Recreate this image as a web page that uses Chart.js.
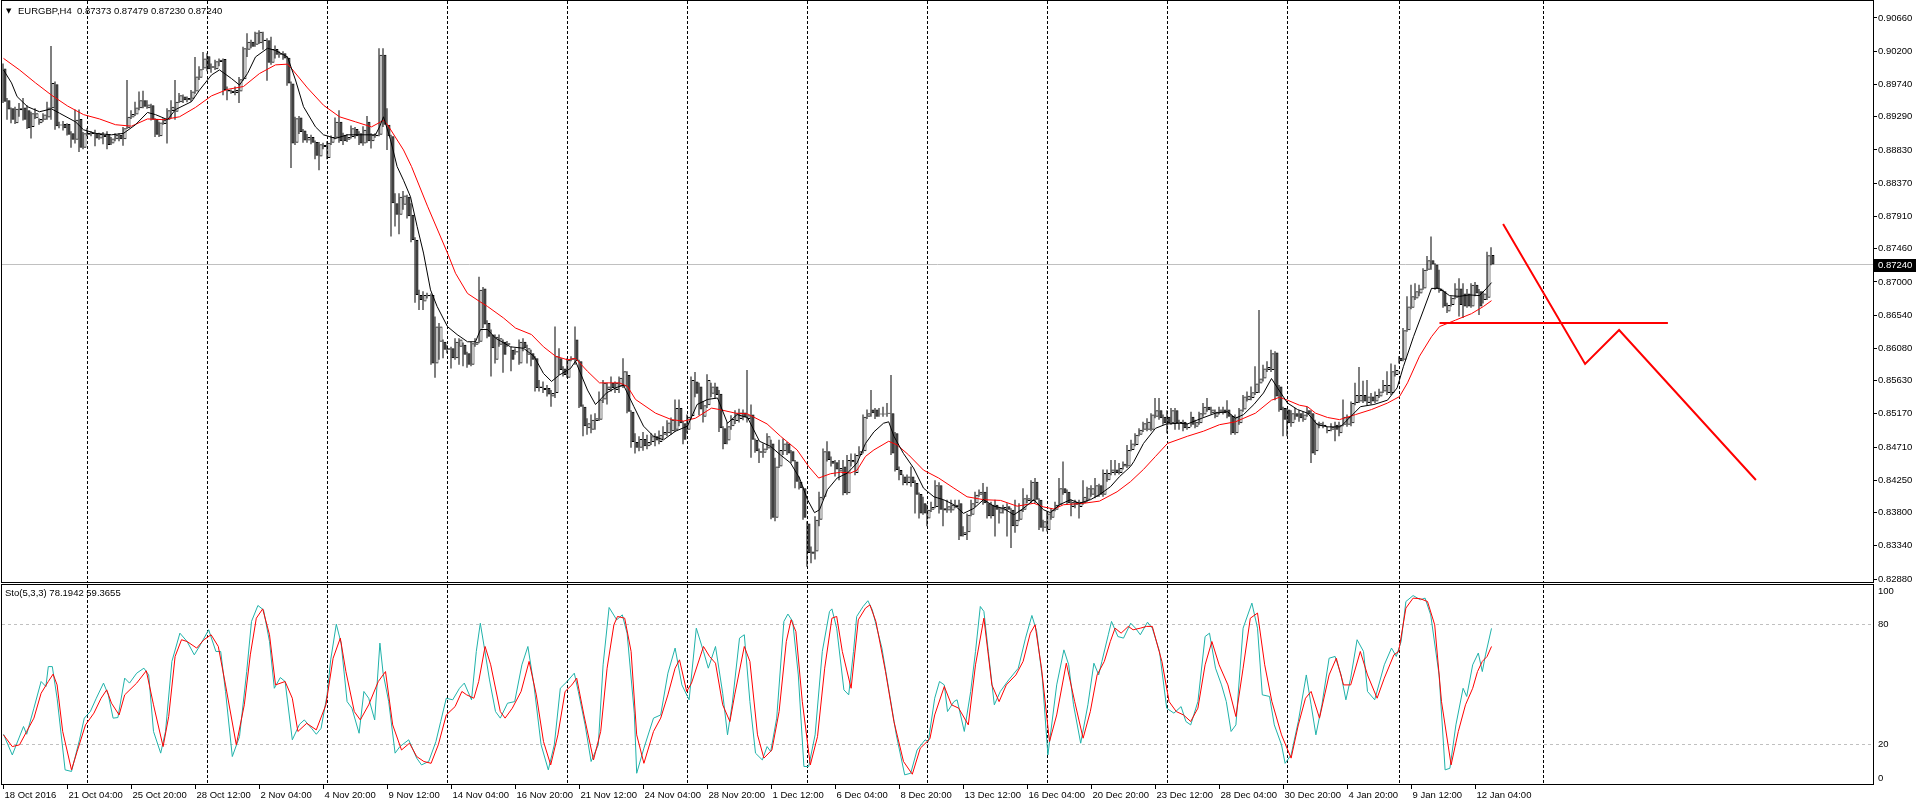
<!DOCTYPE html>
<html>
<head>
<meta charset="utf-8">
<title>EURGBP,H4</title>
<script src="https://cdn.jsdelivr.net/npm/chart.js@4.4.1/dist/chart.umd.min.js"></script>
<style>
  body { margin: 0; background: #fff; }
  #mainChart { position: absolute; left: 0; top: 0; }
  #stoChart { position: absolute; left: 0; top: 584px; }
</style>
</head>
<body>
<canvas id="mainChart" width="1916" height="583"></canvas>
<canvas id="stoChart" width="1916" height="221"></canvas>
<script>
// EURGBP H4 candles, bar 0 = 18 Oct 2016 20:00
const opens = [
  .8996,.8952,.8941,.8920,.8938,.8942,.8938,.8915,.8927,.8920,
  .8925,.8928,.8941,.8974,.8917,.8919,.8919,.8906,.8897,.8926,
  .8886,.8904,.8907,.8906,.8899,.8904,.8905,.8892,.8898,.8904,
  .8898,.8913,.8928,.8932,.8941,.8952,.8941,.8945,.8926,.8902,
  .8919,.8925,.8937,.8936,.8949,.8957,.8952,.8954,.8964,.8983,
  .8996,.9013,.8997,.8995,.9005,.9009,.8966,.8965,.8962,.8964,
  .8981,.9022,.9033,.9029,.9031,.9036,.9035,.9004,.9023,.9015,
  .9017,.9011,.8975,.8893,.8928,.8910,.8896,.8901,.8894,.8874,
  .8890,.8872,.8893,.8900,.8922,.8904,.8897,.8901,.8912,.8906,
  .8892,.8922,.8895,.8902,.8904,.9015,.8918,.8902,.8809,.8793,
  .8807,.8818,.8793,.8758,.8682,.8673,.8682,.8682,.8587,.8617,
  .8617,.8608,.8608,.8594,.8610,.8613,.8601,.8585,.8613,.8617,
  .8691,.8643,.8627,.8592,.8613,.8617,.8613,.8606,.8602,.8587,
  .8617,.8599,.8601,.8594,.8553,.8553,.8553,.8541,.8546,.8594,
  .8580,.8567,.8592,.8620,.8590,.8527,.8497,.8495,.8507,.8509,
  .8537,.8550,.8560,.8550,.8555,.8555,.8571,.8520,.8478,.8470,
  .8482,.8472,.8478,.8486,.8478,.8488,.8490,.8493,.8495,.8525,
  .8504,.8495,.8514,.8562,.8555,.8513,.8529,.8545,.8555,.8545,
  .8497,.8480,.8500,.8507,.8510,.8519,.8510,.8516,.8481,.8465,
  .8463,.8469,.8476,.8373,.8444,.8465,.8476,.8465,.8451,.8423,
  .8414,.8365,.8323,.8326,.8370,.8402,.8465,.8452,.8450,.8437,
  .8444,.8407,.8450,.8435,.8460,.8465,.8513,.8523,.8523,.8517,
  .8516,.8517,.8518,.8490,.8439,.8430,.8421,.8430,.8421,.8406,
  .8393,.8372,.8384,.8388,.8418,.8386,.8383,.8383,.8388,.8393,
  .8349,.8353,.8377,.8393,.8405,.8409,.8393,.8391,.8391,.8379,
  .8383,.8389,.8384,.8361,.8370,.8384,.8396,.8396,.8423,.8398,
  .8359,.8356,.8373,.8384,.8391,.8414,.8409,.8388,.8395,.8388,
  .8393,.8398,.8405,.8402,.8418,.8405,.8425,.8435,.8440,.8435,
  .8444,.8444,.8467,.8474,.8488,.8495,.8495,.8495,.8513,.8522,
  .8513,.8513,.8504,.8522,.8504,.8506,.8497,.8513,.8499,.8504,
  .8516,.8527,.8518,.8513,.8519,.8523,.8523,.8514,.8490,.8504,
  .8523,.8536,.8539,.8546,.8559,.8566,.8578,.8578,.8602,.8555,
  .8525,.8523,.8504,.8518,.8518,.8509,.8522,.8518,.8465,.8500,
  .8502,.8493,.8495,.8502,.8490,.8502,.8502,.8504,.8532,.8534,
  .8543,.8532,.8541,.8534,.8541,.8548,.8546,.8546,.8571,.8595,
  .8592,.8633,.8664,.8677,.8684,.8691,.8717,.8730,.8724,.8691,
  .8687,.8659,.8668,.8678,.8691,.8684,.8684,.8666,.8696,.8687,
  .8675,.8678,.87373
];
const highs = [
  .9003,.8955,.8942,.8943,.8948,.8955,.8945,.8936,.8941,.8927,
  .8934,.8950,.9027,.8978,.8922,.8923,.8920,.8909,.8939,.8939,
  .8908,.8913,.8909,.8911,.8907,.8908,.8909,.8901,.8906,.8906,
  .8915,.8980,.8938,.8950,.8964,.8965,.8952,.8947,.8927,.8922,
  .8927,.8941,.8952,.8980,.8962,.8960,.8957,.8966,.9012,.8999,
  .9019,.9017,.9003,.9008,.9010,.9010,.8971,.8967,.8971,.8984,
  .9026,.9045,.9036,.9047,.9049,.9047,.9038,.9040,.9028,.9020,
  .9020,.9013,.8978,.8929,.8930,.8912,.8905,.8904,.8896,.8894,
  .8893,.8895,.8903,.8928,.8938,.8907,.8905,.8917,.8915,.8909,
  .8916,.8930,.8906,.8906,.9024,.9024,.8941,.8904,.8823,.8823,
  .8826,.8821,.8809,.8762,.8689,.8687,.8685,.8684,.8652,.8643,
  .8620,.8612,.8610,.8622,.8622,.8616,.8603,.8617,.8622,.8707,
  .8693,.8647,.8634,.8627,.8627,.8620,.8618,.8610,.8608,.8620,
  .8622,.8613,.8606,.8597,.8564,.8562,.8557,.8550,.8638,.8608,
  .8583,.8594,.8597,.8638,.8592,.8530,.8511,.8516,.8518,.8548,
  .8564,.8560,.8569,.8562,.8569,.8594,.8576,.8522,.8490,.8486,
  .8492,.8488,.8490,.8490,.8494,.8500,.8508,.8512,.8537,.8537,
  .8507,.8516,.8569,.8575,.8560,.8535,.8572,.8560,.8560,.8550,
  .8500,.8505,.8515,.8522,.8524,.8523,.8578,.8530,.8483,.8469,
  .8476,.8490,.8481,.8456,.8481,.8483,.8478,.8467,.8453,.8430,
  .8416,.8368,.8333,.8375,.8409,.8469,.8479,.8458,.8453,.8453,
  .8453,.8460,.8462,.8462,.8472,.8516,.8523,.8550,.8525,.8525,
  .8527,.8532,.8571,.8492,.8444,.8433,.8433,.8444,.8425,.8408,
  .8402,.8391,.8395,.8425,.8422,.8398,.8398,.8398,.8398,.8398,
  .8361,.8379,.8398,.8409,.8412,.8421,.8416,.8395,.8398,.8388,
  .8391,.8393,.8386,.8398,.8393,.8414,.8405,.8425,.8428,.8400,
  .8370,.8382,.8386,.8395,.8428,.8451,.8412,.8398,.8398,.8398,
  .8425,.8416,.8418,.8428,.8420,.8440,.8440,.8453,.8453,.8449,
  .8451,.8474,.8481,.8490,.8497,.8506,.8511,.8518,.8539,.8539,
  .8516,.8522,.8525,.8525,.8509,.8509,.8504,.8520,.8509,.8520,
  .8532,.8539,.8527,.8523,.8527,.8527,.8536,.8516,.8516,.8525,
  .8543,.8548,.8555,.8583,.8661,.8585,.8590,.8606,.8604,.8557,
  .8527,.8525,.8522,.8525,.8522,.8520,.8527,.8522,.8509,.8506,
  .8506,.8500,.8504,.8506,.8506,.8537,.8516,.8534,.8560,.8582,
  .8563,.8564,.8546,.8548,.8552,.8564,.8576,.8587,.8585,.8597,
  .8636,.8680,.8696,.8698,.8696,.8719,.8736,.8763,.8726,.8717,
  .8689,.8671,.8680,.8698,.8705,.8698,.8690,.8698,.8700,.8690,
  .8687,.8742,.87479
];
const lows = [
  .8948,.8925,.8920,.8919,.8929,.8924,.8912,.8899,.8926,.8918,
  .8922,.8925,.8925,.8911,.8913,.8910,.8903,.8886,.8892,.8880,
  .8884,.8902,.8902,.8888,.8897,.8891,.8884,.8890,.8895,.8895,
  .8889,.8912,.8926,.8930,.8938,.8941,.8940,.8924,.8901,.8901,
  .8918,.8892,.8927,.8925,.8948,.8948,.8949,.8950,.8961,.8980,
  .8994,.8992,.8990,.8994,.8999,.8959,.8952,.8961,.8959,.8948,
  .8979,.9012,.9024,.9026,.9030,.9022,.8979,.9001,.9010,.9011,
  .9008,.8972,.8858,.8890,.8905,.8893,.8893,.8891,.8870,.8855,
  .8884,.8870,.8890,.8898,.8893,.8890,.8894,.8899,.8899,.8890,
  .8889,.8893,.8885,.8900,.8902,.8915,.8883,.8763,.8777,.8766,
  .8800,.8788,.8755,.8671,.8661,.8661,.8677,.8585,.8567,.8592,
  .8594,.8601,.8580,.8592,.8585,.8583,.8581,.8583,.8610,.8615,
  .8636,.8622,.8569,.8587,.8610,.8574,.8610,.8576,.8599,.8585,
  .8604,.8587,.8583,.8548,.8548,.8546,.8541,.8527,.8539,.8571,
  .8569,.8567,.8590,.8585,.8525,.8486,.8488,.8490,.8495,.8507,
  .8532,.8530,.8548,.8546,.8546,.8553,.8518,.8470,.8462,.8465,
  .8466,.8468,.8474,.8472,.8475,.8482,.8486,.8488,.8492,.8500,
  .8475,.8490,.8510,.8540,.8515,.8505,.8525,.8540,.8538,.8492,
  .8468,.8475,.8495,.8503,.8505,.8508,.8505,.8456,.8463,.8449,
  .8456,.8467,.8371,.8368,.8442,.8460,.8460,.8449,.8414,.8412,
  .8370,.8305,.8310,.8315,.8361,.8398,.8451,.8444,.8430,.8425,
  .8404,.8405,.8444,.8432,.8458,.8462,.8510,.8513,.8510,.8513,
  .8513,.8513,.8460,.8437,.8425,.8418,.8418,.8416,.8379,.8372,
  .8377,.8361,.8381,.8386,.8379,.8361,.8380,.8380,.8386,.8342,
  .8347,.8342,.8375,.8388,.8402,.8391,.8372,.8372,.8347,.8365,
  .8379,.8347,.8331,.8352,.8368,.8381,.8393,.8393,.8393,.8356,
  .8354,.8354,.8370,.8382,.8388,.8405,.8391,.8375,.8386,.8372,
  .8391,.8395,.8402,.8400,.8402,.8402,.8423,.8432,.8432,.8433,
  .8440,.8442,.8465,.8472,.8486,.8492,.8493,.8493,.8511,.8509,
  .8502,.8490,.8502,.8495,.8495,.8493,.8495,.8499,.8497,.8502,
  .8513,.8520,.8516,.8511,.8516,.8516,.8511,.8488,.8488,.8502,
  .8520,.8534,.8536,.8543,.8546,.8562,.8575,.8575,.8536,.8520,
  .8486,.8486,.8499,.8509,.8506,.8506,.8513,.8449,.8460,.8497,
  .8497,.8490,.8493,.8479,.8486,.8500,.8499,.8500,.8529,.8532,
  .8532,.8529,.8530,.8532,.8539,.8546,.8543,.8543,.8569,.8587,
  .8590,.8631,.8662,.8675,.8680,.8689,.8715,.8717,.8689,.8685,
  .8664,.8657,.8666,.8676,.8652,.8650,.8664,.8664,.8680,.8654,
  .8670,.8675,.87230
];
const closes = [
  .8950,.8939,.8925,.8940,.8941,.8925,.8913,.8934,.8934,.8926,
  .8932,.8942,.8976,.8916,.8918,.8913,.8904,.8897,.8925,.8886,
  .8906,.8907,.8905,.8899,.8905,.8901,.8890,.8899,.8904,.8898,
  .8913,.8929,.8933,.8942,.8952,.8943,.8946,.8925,.8904,.8921,
  .8925,.8938,.8943,.8950,.8959,.8952,.8955,.8964,.8985,.8995,
  .9010,.8995,.8999,.9006,.9008,.8966,.8964,.8962,.8966,.8981,
  .9024,.9033,.9026,.9046,.9047,.9034,.9004,.9023,.9015,.9017,
  .9010,.8975,.8892,.8927,.8908,.8896,.8901,.8893,.8875,.8891,
  .8887,.8893,.8901,.8922,.8895,.8895,.8901,.8913,.8902,.8892,
  .8911,.8895,.8904,.8904,.9015,.8918,.8902,.8809,.8793,.8818,
  .8820,.8791,.8758,.8682,.8675,.8682,.8680,.8587,.8638,.8638,
  .8606,.8606,.8594,.8617,.8620,.8599,.8585,.8615,.8617,.8689,
  .8641,.8624,.8608,.8624,.8622,.8599,.8615,.8592,.8604,.8617,
  .8608,.8608,.8592,.8553,.8555,.8550,.8544,.8546,.8597,.8578,
  .8571,.8592,.8594,.8590,.8527,.8500,.8504,.8509,.8511,.8537,
  .8560,.8555,.8553,.8560,.8567,.8576,.8520,.8478,.8470,.8482,
  .8472,.8478,.8486,.8480,.8488,.8492,.8505,.8509,.8525,.8504,
  .8481,.8513,.8564,.8545,.8523,.8529,.8564,.8555,.8543,.8497,
  .8475,.8500,.8510,.8518,.8519,.8512,.8515,.8481,.8465,.8463,
  .8469,.8486,.8373,.8444,.8467,.8476,.8462,.8451,.8423,.8414,
  .8373,.8324,.8326,.8370,.8402,.8465,.8453,.8448,.8440,.8442,
  .8407,.8453,.8453,.8460,.8465,.8513,.8518,.8518,.8513,.8516,
  .8517,.8518,.8462,.8439,.8432,.8421,.8430,.8421,.8405,.8379,
  .8379,.8384,.8388,.8418,.8384,.8383,.8389,.8391,.8391,.8347,
  .8353,.8377,.8393,.8405,.8409,.8393,.8375,.8375,.8384,.8386,
  .8388,.8384,.8361,.8370,.8384,.8400,.8400,.8423,.8398,.8359,
  .8368,.8379,.8384,.8391,.8414,.8407,.8393,.8395,.8391,.8395,
  .8402,.8414,.8414,.8418,.8405,.8435,.8435,.8440,.8435,.8442,
  .8448,.8467,.8476,.8488,.8495,.8504,.8506,.8516,.8522,.8511,
  .8504,.8504,.8522,.8504,.8506,.8497,.8499,.8502,.8506,.8518,
  .8527,.8522,.8523,.8520,.8523,.8518,.8513,.8490,.8513,.8523,
  .8541,.8542,.8547,.8559,.8566,.8580,.8582,.8601,.8541,.8522,
  .8509,.8504,.8518,.8513,.8511,.8516,.8516,.8462,.8504,.8504,
  .8500,.8495,.8499,.8495,.8502,.8513,.8513,.8532,.8543,.8543,
  .8534,.8541,.8534,.8543,.8548,.8557,.8557,.8576,.8578,.8590,
  .8633,.8666,.8680,.8687,.8691,.8717,.8730,.8724,.8691,.8687,
  .8666,.8668,.8678,.8691,.8668,.8666,.8666,.8696,.8684,.8666,
  .8684,.8737,.87240
];

// moving averages: [bar, price]
const maBlack = [
  [0,.8994],[2,.8976],[3.4,.8957],[6,.8943],[9,.8936],[12,.8940],[14,.8934],[18,.8922],[20,.8911],[23,.8906],
  [27,.8904],[30,.8906],[33,.8918],[36,.8935],[38,.8932],[41,.8925],[43,.8939],[47,.8950],[49,.8966],[52,.8987],
  [54,.8994],[57,.8982],[59,.8973],[61,.8989],[63,.9012],[66,.9024],[68,.9021],[71,.9012],[73,.8980],[75,.8943],
  [78,.8915],[80,.8904],[83,.8899],[86,.8904],[89,.8904],[93,.8904],[94,.8915],[95,.8929],[96.75,.8897],[98.4,.8860],
  [100,.8841],[101.75,.8818],[103.4,.8777],[105,.8740],[106.75,.8689],[108.4,.8666],[111,.8638],[113.4,.8627],[116,.8617],[118,.8617],
  [119.25,.8634],[121,.8634],[123,.8622],[126.75,.8610],[130,.8608],[132.6,.8597],[135,.8573],[137,.8562],[139,.8571],[141.75,.8580],
  [143,.8590],[146,.8550],[148,.8530],[150.75,.8546],[153,.8553],[155,.8557],[157.6,.8527],[160,.8500],[162.5,.8486],[165,.8481],
  [168,.8493],[171,.8500],[173.4,.8530],[176,.8537],[178.5,.8539],[181,.8504],[183.4,.8516],[186,.8512],[189,.8479],[191.75,.8472],
  [194.25,.8460],[196.75,.8449],[199,.8428],[201,.8398],[202.75,.8380],[204,.8384],[206,.8412],[208.4,.8428],[211,.8435],[213.4,.8449],
  [215.5,.8476],[217.6,.8492],[220,.8504],[221.3,.8506],[222.6,.8486],[225,.8462],[227.5,.8442],[230,.8414],[232.6,.8402],[235,.8398],
  [237.6,.8391],[240,.8379],[242.6,.8386],[245,.8398],[247.6,.8389],[250,.8386],[252.6,.8377],[255,.8386],[257.6,.8398],[260,.8384],
  [261.75,.8380],[264,.8391],[266.75,.8398],[269,.8393],[271.75,.8398],[274,.8405],[276.75,.8416],[279,.8430],[281.75,.8444],[282.6,.8451],
  [285,.8476],[288,.8497],[290.75,.8503],[294,.8504],[296,.8503],[299.6,.8511],[303,.8518],[306,.8520],[308,.8511],[310,.8516],
  [312.6,.8530],[315,.8546],[317,.8566],[318.5,.8553],[321,.8532],[323.5,.8523],[326,.8518],[328.5,.8502],[331,.8499],[334.25,.8499],
  [336.75,.8513],[339.25,.8527],[342.6,.8530],[346,.8536],[348.4,.8553],[350,.8583],[352.5,.8624],[355,.8661],[357,.8691],[359,.8691],
  [361.5,.8681],[364,.8680],[366.5,.8682],[369,.8681],[370.75,.8691],[372,.8699]
];
const maRed = [
  [0,.9010],[4,.8994],[8,.8976],[12,.8959],[16,.8944],[20,.8932],[24,.8926],[28,.8918],[32,.8916],[36,.8926],
  [40,.8925],[44,.8929],[48,.8942],[52,.8958],[56,.8967],[60,.8971],[64,.8989],[68,.9001],[71,.9002],[72,.8996],
  [76,.8969],[80,.8945],[84,.8929],[88,.8922],[92,.8915],[95,.8924],[96,.8918],[100,.8883],[102,.8860],[106,.8805],
  [111,.8740],[113,.8712],[116,.8684],[119,.8673],[121,.8666],[125,.8650],[128,.8636],[132,.8627],[135,.8610],[138,.8597],
  [141,.8592],[143,.8594],[146,.8576],[149,.8560],[154,.8560],[156,.8555],[158,.8537],[163,.8518],[167,.8509],[170,.8507],
  [173,.8511],[177,.8525],[179,.8523],[183,.8518],[186,.8517],[190.9,.8503],[194.25,.8486],[198.4,.8467],[201.3,.8444],[203.8,.8428],
  [206.75,.8434],[209.25,.8436],[211.75,.8435],[213.4,.8439],[215.5,.8458],[217.6,.8467],[221.3,.8479],[223.4,.8474],[226.3,.8460],[230,.8439],
  [233.8,.8428],[237.6,.8414],[240.9,.8402],[245,.8398],[249.25,.8397],[253.4,.8389],[257.6,.8393],[260,.8388],[262.6,.8385],[265,.8391],
  [270,.8393],[274,.8396],[278.4,.8409],[281.75,.8423],[285,.8440],[288,.8458],[291,.8476],[296,.8486],[300,.8493],[304,.8502],
  [308,.8506],[313,.8518],[317,.8536],[319,.8540],[321,.8536],[324,.8529],[326,.8527],[328,.8518],[331,.8512],[334,.8509],
  [338,.8516],[342,.8523],[346,.8532],[349,.8541],[351,.8560],[354,.8597],[357,.8624],[359,.8638],[363,.8647],[367,.8656],
  [370,.8666],[372,.8674]
];

// Sto(5,3,3): main (%K) and signal (%D), [bar, value]
const stoMain = [
  [0,25],[2.2,14.6],[5,28.9],[5.8,25],[7.6,38.1],[9.4,51.5],[10.6,49],[11.2,59],[12.2,59],[13.4,43.1],
  [15.4,7.1],[17,6.3],[19,22.2],[20.2,33.1],[21.7,36.4],[23.2,43.1],[25,50.7],[26.2,44.8],[27.4,33.1],[28.6,33.4],
  [30.3,53.2],[31.5,50.7],[33.3,55.7],[35.1,58.2],[36.3,54.8],[37.5,26.4],[39.3,15.5],[40.5,26.4],[42.1,61.6],[44.1,75.8],
  [45.9,71.6],[47.7,64.9],[49.2,69.9],[51.3,77.5],[53.1,66.6],[54.3,66.6],[55.5,46.5],[57.2,13.8],[59,23.8],[60.8,56.5],
  [62,81.7],[63.6,89.7],[65,87.5],[66.5,71.6],[67.7,48.1],[69.2,53.5],[70.4,51.5],[72.2,22.2],[74,30],[75.2,32.2],
  [77,28],[78.2,25],[79.4,28],[80.9,44.8],[81.8,62.4],[83.2,80.3],[84.4,70.8],[85.9,41.4],[87.1,38.1],[88.9,25.5],
  [90.1,46.5],[91.3,43.1],[92.8,32.2],[94.1,70.8],[94.9,55.7],[96.3,41.4],[97.9,15.5],[99.1,18.8],[101.3,22.2],[103.3,13],
  [104.5,9.6],[106.3,11.3],[108.1,21.3],[109.3,31.4],[110.7,43.1],[112.3,42.3],[114,48.1],[115.2,50.7],[117,42.3],[118.2,66.6],
  [119.2,80.8],[120.3,67.4],[121.5,52.3],[123,36.4],[124.2,33.1],[126,40.6],[127.8,41.4],[129.6,59.9],[131.1,69.1],[132.6,49.8],
  [134.4,19.7],[136.2,7.1],[137.7,19.7],[139.2,48.1],[140.9,51.5],[142.7,55.7],[143.7,46.5],[145.4,29.7],[146.9,11.3],[148.7,19.7],
  [149.9,59.9],[151.4,88.7],[153.3,82.5],[154.7,85],[155.9,75.8],[157.7,35.6],[158.3,5.4],[160.1,18],[162.5,33.1],[164.3,34.7],
  [166.1,55.7],[167.9,68.3],[169.6,49.8],[171.4,42.3],[173.2,78.3],[175,66.6],[176.2,58.2],[178,69.1],[179.8,45.6],[181,24.7],
  [182.2,40.6],[184,73.3],[185.2,75],[186.6,41.4],
  [188,15.5],[189.7,12.1],[190.9,18.8],[191.8,16.3],[193.3,33.1],[195.1,81.7],[196.1,85.4],[197.3,81.7],[198.7,54.8],[200.1,8.8],
  [201.3,8.8],[202.9,24.7],[204.7,66.6],[206.5,86.7],[207.1,88],[208.3,78.3],[210.1,47.3],[211.3,44.8],[212.5,66.6],[213.3,84.2],
  [214.9,89.2],[216.1,92.1],[217.2,87.5],[219.6,68.3],[221.4,46.5],[223.2,24.7],[225.3,4.6],[226.8,5.4],[228.4,17.1],[230.4,22.2],
  [231.2,21.3],[232.8,43.1],[234,51.5],[235.2,49.8],[236,36.4],[237.6,41.4],[238.4,42.3],[240.2,26.4],[241.8,46.5],[243,66.6],
  [244.2,89.2],[245.1,86.7],[246.2,66.6],[247.7,39.8],[249.2,46.5],[251.3,52.3],[253.7,58.2],[255.5,73.3],[257.1,84.7],[258.3,76.6],
  [259.7,53.2],[261.1,14.6],[263.3,49.8],[265.1,67.4],[266.3,59.9],[267.5,39.8],[269.3,20.5],[271.1,39.8],[272.6,60.7],[273.8,54.8],
  [274.6,61.6],[276.2,75],[277,81.7],[278.6,74.1],[280,73.3],[281.8,80.8],[283,78.3],[284.2,75],[286,81.3],[287.2,78.3],
  [289,66.6],[290.8,38.1],[292.6,35.6],[294.4,38.9],[295.6,31.4],[296.8,29.7],[298.6,41.4],[300.4,74.1],[301.5,75.8],[303,58.2],
  [304.5,49.8],[305.7,41.4],[306.9,26.4],[308.1,29.7],[309.9,78.3],[312.1,90.9],[313.5,78.3],[314.7,44.8],[316.5,44],[317.7,29.7],
  [319.5,19.7],[320.4,10.4],[321.9,14.6],[323.7,31.4],[325.7,54.8],[326.9,39.8],[328.1,24.7],[329.6,39.8],[331.4,63.2],[332.9,64.1],
  [334.4,54.8],[335.6,42.3],[336.8,53.2],[338.4,72.5],[340,66.6],[341,46.5],[342.8,42.3],[345.2,59.9],[347,68.3],[348.2,64.1],
  [349.4,71.6],[350.6,91.7],[352.4,94.7],[354.2,92.6],[355.4,93.4],[356.8,85],[358.9,54.8],[360.4,7.1],[361.6,7.9],[363.1,29.7],
  [364.9,48.1],[365.8,44],[367.3,59.9],[368.7,65.8],[369.7,56.5],[370.5,64.9],[372,78.2]
];
const stoSignal = [
  [0,24.7],[2.2,18.8],[4,19.7],[5.8,26.4],[7.6,33.1],[9.4,45.6],[11.2,51.5],[12.4,55.2],[13.4,49.8],[14.8,26.4],
  [17,7.1],[18.4,16.3],[20.5,29.7],[22.6,35.6],[24.4,43.1],[25.8,47.3],[27,40.6],[28.9,34.7],[30.3,44.8],[33.3,50.7],
  [35.7,56.9],[37.5,39.8],[39.9,18.8],[41.3,33.9],[42.9,64.1],[44.5,72.5],[45.9,71.6],[48.3,68.3],[50.1,72.5],[51.9,75],
  [53.7,69.1],[55.5,49.8],[58.2,19.7],[60.2,39.8],[61.7,64.9],[63.2,83.3],[64.8,88],[66.5,75],[68,49.8],[70.4,51.5],
  [72.2,43.1],[73.6,26.4],[75.8,30.5],[78.2,27.2],[80.6,39.8],[82.4,63.2],[84.2,73.3],[85.6,56.5],[87.7,36.4],[89.2,32.2],
  [91.3,39.8],[93.7,51.5],[95.5,56.5],[97.3,29.7],[99.5,17.1],[101.5,20.5],[103.3,13.8],[105.1,11.3],[106.9,10.4],[108.7,19.7],
  [110.7,34.7],[112.9,38.9],[114.6,46.5],[115.8,44.8],[117.6,43.1],[118.8,51.5],[120.4,69.1],[121.8,59.9],[124.2,36.4],[125.4,33.1],
  [127.2,38.1],[129.4,46.5],[131.4,61.6],[133.2,44.8],[135,21.3],[136.8,9.6],[138.6,24.7],[140.4,46.5],[142.1,49.8],[143.3,53.2],
  [145.1,34.7],[147.5,12.1],[149.3,26.4],[150.9,58.2],[152.6,80],[153.5,84.2],[155.3,83.3],[156.9,66.6],[158.3,24.7],[160.1,10.4],
  [162.5,26.4],[164.3,33.1],[166.1,44.8],[167.9,58.2],[169,62.4],[170.8,46.5],[172,50.7],[175,69.1],[176.5,64.1],[178,60.7],
  [179.8,39.8],[181.6,31.4],[182.8,44.8],[185.2,69.1],[186.6,61.6],
  [188.5,24.7],[190.1,13],[192.1,17.1],[193.9,36.4],[195.7,71.6],[196.9,82.5],[198.1,76.6],[199.7,41.4],[201.7,9.6],[203.5,23.8],
  [205.3,58.2],[207.1,83.3],[208.3,84.2],[209.7,66.6],[211.9,48.1],[213.7,82.5],[215.5,88.4],[216.6,90],[218.1,81.7],[220.5,56.5],
  [222.6,31.4],[225,11.3],[227.2,4.9],[229.2,18],[231.6,22.7],[232.8,34.7],[235.2,49],[237,39.8],[238.8,38.1],[241.2,29.7],
  [243,59.9],[245.1,83.3],[247.1,49.8],[248.9,41.4],[250.7,49.8],[253.1,54.8],[254.9,61.6],[256.7,75.8],[257.9,80],[259.5,58.2],
  [261.5,21.3],[263.3,34.7],[265.7,60.7],[267.8,41.4],[269.9,23],[271.7,36.4],[273.4,54.8],[275.2,61.6],[276.7,71.6],[277.9,78.3],
  [279.4,75.8],[281.2,79.2],[282.4,77.5],[284.2,78.3],[285.8,79.2],[287.2,79.2],[289.6,61.6],[291.4,41.4],[293.2,36.4],[295,34.7],
  [296.8,31.4],[298.6,38.1],[300.4,59.9],[302.1,71.6],[303.9,59.9],[306.1,49.8],[308.1,33.9],[309.9,58.2],[311.7,83.3],[313.5,85.9],
  [315.3,59.9],[317.1,41.4],[319.5,24.7],[321.9,13],[323.7,29.7],[325.5,43.1],[326.9,46.5],[329,33.1],[331.4,54.8],[333.2,63.2],
  [335,49.8],[336.8,49.8],[339.2,66.6],[341,54.8],[343.4,43.1],[345.2,53.2],[347.6,64.9],[348.8,66.6],[350.6,88.4],[352.4,93.4],
  [354.2,93.1],[356,91.7],[357.8,80],[359.5,41.4],[361.9,9.6],[363.7,26.4],[365.5,39.8],[367.3,48.1],[368.5,56.5],[369.7,61.6],
  [370.9,64.1],[372,69.1]
];

// hand drawn red lines on the chart
const zigzagLine = [[374.9,.87803],[395.4,.85862],[403.9,.86333],[438.1,.84253]];
const levelLine = [[359.0,.8643],[416.1,.8643]];

// axes
const priceTicks = [.90660,.90200,.89740,.89290,.88830,.88370,.87910,.87460,.87000,.86540,.86080,.85630,.85170,.84710,.84250,.83800,.83340,.82880];
const bidPrice = 0.87240;
const weekStarts = [21, 51, 81, 111, 141, 171, 201, 231, 261, 291, 321, 349, 385];
const timeTickBars = [0,16,32,48,64,80,96,112,128,144,160,176,192,208,224,240,256,272,288,304,320,336,352,368];
const timeLabels = ['18 Oct 2016','21 Oct 04:00','25 Oct 20:00','28 Oct 12:00','2 Nov 04:00','4 Nov 20:00','9 Nov 12:00',
  '14 Nov 04:00','16 Nov 20:00','21 Nov 12:00','24 Nov 04:00','28 Nov 20:00','1 Dec 12:00','6 Dec 04:00','8 Dec 20:00',
  '13 Dec 12:00','16 Dec 04:00','20 Dec 20:00','23 Dec 12:00','28 Dec 04:00','30 Dec 20:00','4 Jan 20:00','9 Jan 12:00','12 Jan 04:00'];
const stoLevels = [100, 80, 20, 0];

const X_MIN = -0.375, X_MAX = 467.375;
const FONT = '"Liberation Sans", Arial, sans-serif';

Chart.defaults.font.family = FONT;
Chart.defaults.font.size = 9.5;
Chart.defaults.color = '#000';

const toXY = pairs => pairs.map(p => ({ x: p[0], y: p[1] }));
const wicks = lows.map((l, i) => ({ x: i, y: [l, highs[i]] }));
const bodies = opens.map((o, i) => ({ x: i, y: [o, closes[i]] }));
const bodyFill = opens.map((o, i) => closes[i] >= o ? '#ffffff' : '#000000');

function lineSet(points, color, width, order) {
  return { type: 'line', data: toXY(points), borderColor: color, borderWidth: width,
           pointRadius: 0, fill: false, tension: 0, order: order };
}

// separators, levels, frame and header text for one panel
function panelDeco(cfg) {
  return {
    id: 'deco_' + cfg.name,
    beforeDatasetsDraw(chart) {
      const { ctx, chartArea: a } = chart;
      const xs = chart.scales.x, ys = chart.scales.y;
      ctx.save();
      ctx.lineWidth = 1;
      ctx.strokeStyle = '#000000';
      ctx.setLineDash([3, 2]);
      weekStarts.forEach(w => {
        const px = Math.floor(xs.getPixelForValue(w)) + 0.5;
        ctx.beginPath(); ctx.moveTo(px, a.top); ctx.lineTo(px, a.bottom); ctx.stroke();
      });
      cfg.levels.forEach(lv => {
        ctx.strokeStyle = lv.color;
        ctx.setLineDash(lv.dash);
        const py = Math.floor(ys.getPixelForValue(lv.value)) + 0.5;
        ctx.beginPath(); ctx.moveTo(a.left, py); ctx.lineTo(a.right, py); ctx.stroke();
      });
      ctx.restore();
    },
    afterDraw(chart) {
      const { ctx, chartArea: a, width } = chart;
      const ys = chart.scales.y;
      ctx.save();
      ctx.strokeStyle = '#000';
      ctx.lineWidth = 1;
      ctx.strokeRect(a.left - 0.5, a.top - 0.5, a.right - a.left + 1, a.bottom - a.top + 1);
      ctx.textBaseline = 'middle';
      ctx.fillStyle = '#000';
      if (cfg.arrow) {
        ctx.font = '7px "DejaVu Sans"';
        ctx.fillText('\u25BC', 6, 11);
      }
      ctx.font = '9.5px ' + FONT;
      ctx.fillText(cfg.title, cfg.titleX, cfg.titleY);
      if (cfg.bid) {
        const py = Math.round(ys.getPixelForValue(cfg.bid));
        ctx.fillStyle = '#000';
        ctx.fillRect(a.right + 1, py - 6, width - a.right - 1, 13);
        ctx.fillStyle = '#fff';
        ctx.fillText(cfg.bid.toFixed(5), a.right + 5, py + 0.5);
      }
      if (cfg.sideLabels) {
        ctx.fillStyle = '#000';
        cfg.sideLabels.forEach(v => {
          let py = ys.getPixelForValue(v);
          py = Math.min(Math.max(py, a.top + 6), a.bottom - 6);
          ctx.fillText(String(v), a.right + 5, py);
        });
      }
      ctx.restore();
    }
  };
}

const noPad = s => { s.paddingTop = 0; s.paddingBottom = 0; s.paddingLeft = 0; s.paddingRight = 0; };

new Chart(document.getElementById('mainChart'), {
  type: 'bar',
  data: {
    datasets: [
      lineSet(zigzagLine, '#ff0000', 2, 0),
      lineSet(levelLine, '#ff0000', 2, 0),
      lineSet(maBlack, '#000000', 1, 1),
      lineSet(maRed, '#ff0000', 1, 2),
      { type: 'bar', xAxisID: 'xb', data: bodies, backgroundColor: bodyFill, borderColor: '#000000',
        borderWidth: 1, borderSkipped: false, barThickness: 3, minBarLength: 1, inflateAmount: 0, order: 3 },
      { type: 'bar', xAxisID: 'x', data: wicks, backgroundColor: '#000000', borderWidth: 0,
        barThickness: 1, minBarLength: 1, inflateAmount: 0, order: 4 }
    ]
  },
  options: {
    responsive: false,
    devicePixelRatio: 1,
    animation: false,
    events: [],
    layout: { padding: { top: 1, left: 2, right: 0, bottom: 1 } },
    plugins: { legend: { display: false }, tooltip: { enabled: false } },
    scales: {
      x: { type: 'linear', min: X_MIN, max: X_MAX, offset: false, display: false },
      xb: { type: 'linear', min: X_MIN, max: X_MAX, offset: false, display: false },
      y: {
        position: 'right', min: 0.828384, max: 0.908957, beginAtZero: false,
        afterBuildTicks: s => { s.ticks = priceTicks.map(v => ({ value: v })); },
        afterFit: s => { s.width = 43; noPad(s); },
        ticks: { autoSkip: false, padding: 1, crossAlign: 'near', callback: v => Number(v).toFixed(5) },
        grid: { drawOnChartArea: false, tickLength: 4, color: '#000' },
        border: { display: true, color: '#000' }
      }
    }
  },
  plugins: [panelDeco({
    name: 'main', arrow: true, title: 'EURGBP,H4  0.87373 0.87479 0.87230 0.87240', titleX: 18, titleY: 11,
    bid: bidPrice, levels: [{ value: bidPrice, color: '#c0c0c0', dash: [] }]
  })]
});

new Chart(document.getElementById('stoChart'), {
  type: 'line',
  data: {
    datasets: [
      lineSet(stoSignal, '#ff0000', 1, 0),
      lineSet(stoMain, '#20b2aa', 1, 1)
    ]
  },
  options: {
    responsive: false,
    devicePixelRatio: 1,
    animation: false,
    events: [],
    layout: { padding: { top: 1, left: 2, right: 0, bottom: 0 } },
    plugins: { legend: { display: false }, tooltip: { enabled: false } },
    scales: {
      x: {
        type: 'linear', min: X_MIN, max: X_MAX, offset: false, position: 'bottom',
        afterBuildTicks: s => { s.ticks = timeTickBars.map(v => ({ value: v })); },
        afterFit: s => { s.height = 21; noPad(s); },
        ticks: { autoSkip: false, maxRotation: 0, align: 'start', labelOffset: 1, padding: 1,
                 callback: (v, k) => timeLabels[k] },
        grid: { drawOnChartArea: false, tickLength: 5, color: '#000' },
        border: { display: true, color: '#000' }
      },
      y: {
        position: 'right', min: 0, max: 100,
        afterFit: s => { s.width = 43; noPad(s); },
        ticks: { display: false },
        grid: { display: false },
        border: { display: true, color: '#000' }
      }
    }
  },
  plugins: [panelDeco({
    name: 'sto', title: 'Sto(5,3,3) 78.1942 59.3655', titleX: 5, titleY: 9,
    sideLabels: stoLevels,
    levels: [{ value: 80, color: '#c0c0c0', dash: [3, 3] }, { value: 20, color: '#c0c0c0', dash: [3, 3] }]
  })]
});
</script>
</body>
</html>
